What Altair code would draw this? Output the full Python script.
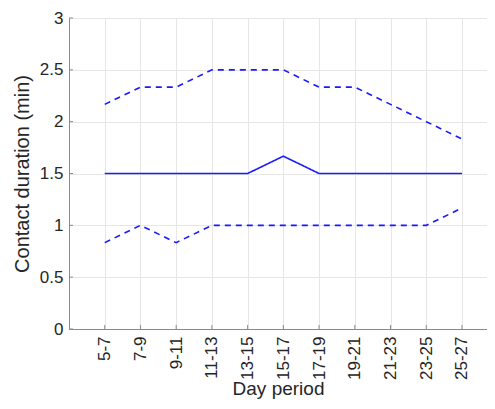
import altair as alt
import pandas as pd
import json

periods = ["5-7", "7-9", "9-11", "11-13", "13-15", "15-17", "17-19", "19-21", "21-23", "23-25", "25-27"]
middle = [1.5, 1.5, 1.5, 1.5, 1.5, 1.667, 1.5, 1.5, 1.5, 1.5, 1.5]
upper = [2.167, 2.333, 2.333, 2.5, 2.5, 2.5, 2.333, 2.333, 2.167, 2.0, 1.833]
lower = [0.833, 1.0, 0.833, 1.0, 1.0, 1.0, 1.0, 1.0, 1.0, 1.0, 1.167]
y_ticks = [0, 0.5, 1, 1.5, 2, 2.5, 3]

rows = []
for i, p in enumerate(periods):
    rows.append({"idx": i + 1, "period": p, "series": "middle", "value": middle[i]})
    rows.append({"idx": i + 1, "period": p, "series": "upper", "value": upper[i]})
    rows.append({"idx": i + 1, "period": p, "series": "lower", "value": lower[i]})
df = pd.DataFrame(rows)

xt = pd.DataFrame({"idx": list(range(1, len(periods) + 1))})
yt = pd.DataFrame({"v": y_ticks})

label_arr = json.dumps([""] + periods + [""])
FONT = "Liberation Sans"
W, H = 418, 311

x_scale = alt.Scale(domain=[0, 11.7], nice=False, zero=False)
y_scale = alt.Scale(domain=[0, 3], nice=False)

x_axis = alt.Axis(
    values=list(range(1, len(periods) + 1)),
    labelExpr=f"{label_arr}[datum.value]",
    labelAngle=-90, labelAlign="right", labelBaseline="middle",
    labelFontSize=17, labelFont=FONT, labelColor="#262626", labelPadding=7,
    ticks=False, domainColor="#8a8a8a", domainWidth=1,
    grid=True, gridColor="#e6e6e6", gridWidth=1,
    title="Day period", titleFontSize=19, titleFont=FONT, titleFontWeight="normal",
    titleColor="#262626", titlePadding=0,
)
y_axis = alt.Axis(
    values=y_ticks, format="~g", labelFontSize=17, labelFont=FONT, labelColor="#262626",
    labelPadding=6, ticks=False, domainColor="#8a8a8a", domainWidth=1,
    grid=True, gridColor="#e6e6e6", gridWidth=1,
    title="Contact duration (min)", titleFontSize=20, titleFont=FONT,
    titleFontWeight="normal", titleColor="#262626", titlePadding=7,
)

lines = alt.Chart(df).mark_line(strokeWidth=1.6, color="#1a1aff").encode(
    x=alt.X("idx:Q", scale=x_scale, axis=x_axis),
    y=alt.Y("value:Q", scale=y_scale, axis=y_axis),
    detail="series:N",
    strokeDash=alt.StrokeDash(
        "series:N",
        scale=alt.Scale(domain=["middle", "upper", "lower"], range=[[1, 0], [6, 5], [6, 5]]),
        legend=None,
    ),
)

xticks = alt.Chart(xt).mark_rule(color="#8a8a8a", strokeWidth=1).encode(
    x=alt.X("idx:Q", scale=x_scale),
    y=alt.value(H), y2=alt.value(H - 4),
)
yticks = alt.Chart(yt).mark_rule(color="#8a8a8a", strokeWidth=1).encode(
    y=alt.Y("v:Q", scale=y_scale),
    x=alt.value(0), x2=alt.value(4),
)

chart = alt.layer(lines, xticks, yticks).properties(
    width=W, height=H,
    autosize=alt.AutoSizeParams(type="none"),
    padding={"left": 61, "top": 10, "right": 0, "bottom": 72},
).configure_view(stroke=None).configure(background="white")

chart.save("out.html", embed_options={"renderer": "svg", "actions": False})
